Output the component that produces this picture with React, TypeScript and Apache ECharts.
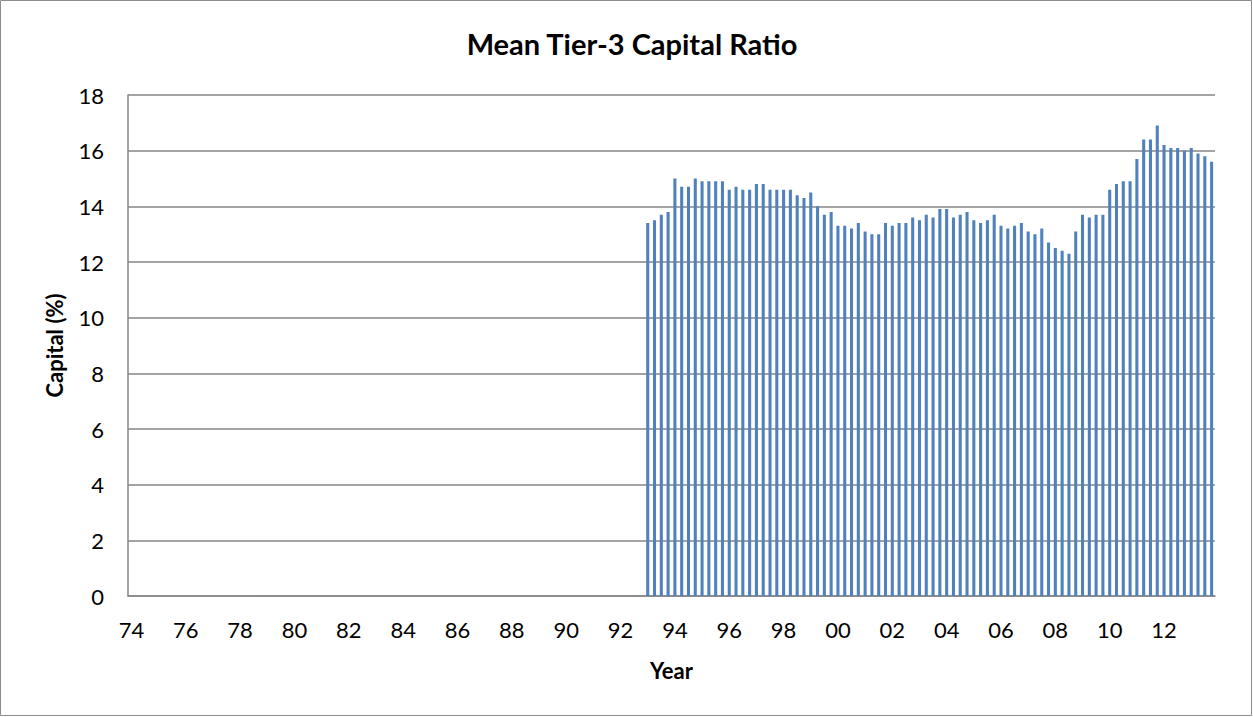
import React, { useEffect, useRef } from "react";
import * as echarts from "echarts";

const startYear = 1974;
const endYear = 2013;
const dataStartYear = 1993;

// Mean Tier-3 capital ratio (%), quarterly, 1993Q1 - 2013Q4
const ratio1993to2013: number[] = [
  13.4, 13.5, 13.7, 13.8,
  15.0, 14.7, 14.7, 15.0,
  14.9, 14.9, 14.9, 14.9,
  14.6, 14.7, 14.6, 14.6,
  14.8, 14.8, 14.6, 14.6,
  14.6, 14.6, 14.4, 14.3,
  14.5, 14.0, 13.7, 13.8,
  13.3, 13.3, 13.2, 13.4,
  13.1, 13.0, 13.0, 13.4,
  13.3, 13.4, 13.4, 13.6,
  13.5, 13.7, 13.6, 13.9,
  13.9, 13.6, 13.7, 13.8,
  13.5, 13.4, 13.5, 13.7,
  13.3, 13.2, 13.3, 13.4,
  13.1, 13.0, 13.2, 12.7,
  12.5, 12.4, 12.3, 13.1,
  13.7, 13.6, 13.7, 13.7,
  14.6, 14.8, 14.9, 14.9,
  15.7, 16.4, 16.4, 16.9,
  16.2, 16.1, 16.1, 16.0,
  16.1, 15.9, 15.8, 15.6,
];

const yTicks = [0, 2, 4, 6, 8, 10, 12, 14, 16, 18];

const categories: string[] = [];
for (let y = startYear; y <= endYear; y++) {
  for (let q = 1; q <= 4; q++) categories.push(`${y}Q${q}`);
}
const values: (number | null)[] = categories.map((c) => {
  const yr = parseInt(c.slice(0, 4), 10);
  const q = parseInt(c.slice(5), 10);
  if (yr < dataStartYear) return null;
  return ratio1993to2013[(yr - dataStartYear) * 4 + (q - 1)] ?? null;
});

const FONT = "Lato, 'Open Sans', sans-serif";

export default function App() {
  const ref = useRef<HTMLDivElement>(null);
  useEffect(() => {
    document.body.style.margin = "0";
    if (!ref.current) return;
    const chart = echarts.init(ref.current, undefined, { renderer: "svg" });
    chart.setOption({
      animation: false,
      backgroundColor: "#ffffff",
      title: {
        text: "Mean Tier-3 Capital Ratio",
        left: 627,
        textAlign: "center",
        top: 24,
        textStyle: { fontFamily: FONT, fontSize: 29, fontWeight: "bold", color: "#000" },
      },
      graphic: [
        {
          type: "rect",
          shape: { x: 0.5, y: 0.5, width: 1251, height: 715 },
          style: { fill: "none", stroke: "#8c8c8c", lineWidth: 1 },
          silent: true,
        },
      ],
      grid: { left: 128, right: 38, top: 95, bottom: 121, containLabel: false },
      xAxis: {
        type: "category",
        data: categories,
        name: "Year",
        nameLocation: "middle",
        nameGap: 63,
        nameTextStyle: { fontFamily: FONT, fontSize: 22, fontWeight: "bold", color: "#000" },
        axisLine: { lineStyle: { color: "#868686", width: 1.5 } },
        axisTick: { show: false },
        axisLabel: {
          interval: 7,
          margin: 22,
          fontFamily: FONT,
          fontSize: 22,
          color: "#000",
          formatter: (v: string) => v.slice(2, 4),
        },
        splitLine: { show: false },
      },
      yAxis: {
        type: "value",
        min: yTicks[0],
        max: yTicks[yTicks.length - 1],
        interval: 2,
        name: "Capital (%)",
        nameLocation: "middle",
        nameGap: 63,
        nameRotate: 90,
        nameTextStyle: { fontFamily: FONT, fontSize: 22, fontWeight: "bold", color: "#000" },
        axisLine: { show: true, lineStyle: { color: "#868686", width: 1.5 } },
        axisTick: { show: false },
        axisLabel: { fontFamily: FONT, fontSize: 22, color: "#000", margin: 24 },
        splitLine: { lineStyle: { color: "#868686", width: 1.5 } },
      },
      series: [
        {
          type: "bar",
          data: values,
          barWidth: "45%",
          itemStyle: { color: "#4f81bd" },
        },
      ],
    });
    return () => chart.dispose();
  }, []);
  return <div ref={ref} style={{ width: 1253, height: 717 }} />;
}
